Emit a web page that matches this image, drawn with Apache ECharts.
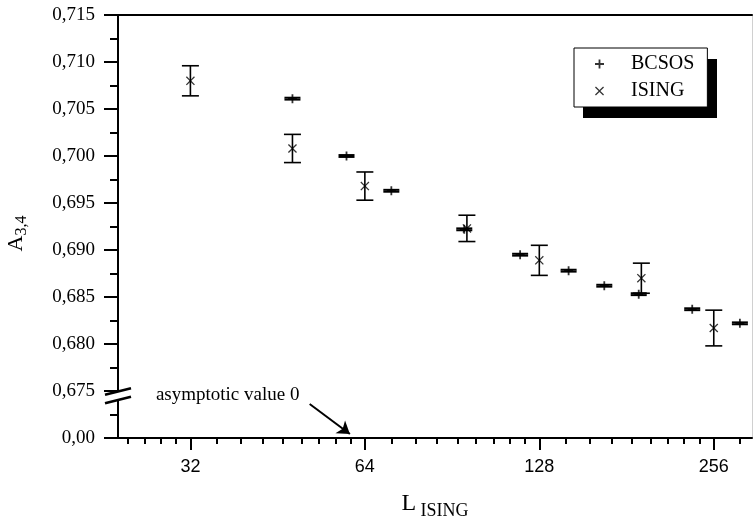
<!DOCTYPE html>
<html><head><meta charset="utf-8">
<script src="https://cdn.jsdelivr.net/npm/echarts@6/dist/echarts.min.js"></script>
<style>html,body{margin:0;padding:0;background:#fff}#c{width:753px;height:525px}</style>
</head><body><div id="c"></div>
<script>
// ---- data ----
const xTickValues = [32, 64, 128, 256];
const xMinorTickValues = [24.9, 26.7, 28.4, 30.2, 35.6, 39.1, 42.7, 46.2, 49.8, 53.3, 56.9, 60.4,
  71.1, 78.2, 85.3, 92.4, 99.6, 106.7, 113.8, 120.9, 142.2, 156.4, 170.7, 184.9, 199.1, 213.3, 227.6, 241.8, 284.4];
const isingL = [32, 48, 64, 96, 128, 192, 256];
const isingA = [0.7080, 0.7008, 0.6968, 0.6923, 0.6889, 0.6870, 0.6817];
const isingErr = [0.0016, 0.0015, 0.0015, 0.0014, 0.0016, 0.0016, 0.0019];
const bcsosL = [48, 59.5, 71.1, 95, 118.6, 143.8, 165.7, 190, 235, 284];
const bcsosA = [0.7061, 0.7000, 0.6963, 0.6922, 0.6895, 0.6878, 0.6862, 0.6853, 0.6837, 0.6822];
const bcsosErr = [0.0001, 0.0001, 0.0001, 0.0001, 0.0001, 0.0001, 0.0001, 0.0001, 0.0001, 0.0001];
const yAxisBottom = 0.670;        // bottom of the broken axis, labelled "0,00"
const annotationText = 'asymptotic value 0';
const annotationAnchor = [27.9, 0.67457];
const arrowFrom = [51.4, 0.67362];
const arrowTo = [60.3, 0.67042];
const breakValue = 0.67449;

const plusPath = 'path://M4,0H6V4H10V6H6V10H4V6H0V4H4Z';
const crossPath = 'path://M1,0L5,4L9,0L10,1L6,5L10,9L9,10L5,6L1,10L0,9L4,5L0,1Z';

function errRender(capW, lw) {
  return function (params, api) {
    const x = api.value(0);
    const lo = api.coord([x, api.value(1)]);
    const hi = api.coord([x, api.value(2)]);
    const style = { stroke: '#000', lineWidth: lw, fill: null };
    return { type: 'group', children: [
      { type: 'line', shape: { x1: lo[0], y1: lo[1], x2: hi[0], y2: hi[1] }, style },
      { type: 'line', shape: { x1: lo[0] - capW / 2, y1: lo[1], x2: lo[0] + capW / 2, y2: lo[1] }, style },
      { type: 'line', shape: { x1: hi[0] - capW / 2, y1: hi[1], x2: hi[0] + capW / 2, y2: hi[1] }, style }
    ] };
  };
}

const chart = echarts.init(document.getElementById('c'), null, { renderer: 'canvas' });
const serif = 'Liberation Serif';
const sans = 'Liberation Sans';
const xCommon = { type: 'log', logBase: 2, min: 24, max: 298, gridIndex: 0, splitLine: { show: false } };

chart.setOption({
  animation: false,
  backgroundColor: '#fff',
  grid: { left: 118, top: 15, right: 1, bottom: 87, outerBoundsMode: 'none', containLabel: false },
  legend: {
    left: 574, top: 48, orient: 'vertical', z: 10,
    itemWidth: 9, itemHeight: 9, itemGap: 7,
    padding: [6, 13, 6, 21],
    backgroundColor: '#fff', borderColor: '#000', borderWidth: 1,
    textStyle: { fontFamily: serif, fontSize: 20, color: '#000', padding: [0, 0, 0, 22] },
    data: [{ name: 'BCSOS', icon: plusPath }, { name: 'ISING', icon: crossPath }],
    selectedMode: false
  },
  graphic: [
    // drop shadow of the legend box
    { type: 'rect', left: 583, top: 59, z: 1, shape: { width: 134, height: 59 }, style: { fill: '#000' } }
  ],
  xAxis: [
    Object.assign({}, xCommon, {
      position: 'bottom',
      axisLine: { lineStyle: { color: '#000', width: 2 } },
      axisTick: { customValues: xTickValues, length: 12, lineStyle: { color: '#000', width: 2 } },
      axisLabel: { customValues: xTickValues, margin: 20, fontFamily: sans, fontSize: 18, color: '#000' },
      name: '{a|L}{s| ISING}', nameLocation: 'middle', nameGap: 50,
      nameTextStyle: { rich: {
        a: { fontFamily: serif, fontSize: 24, color: '#000' },
        s: { fontFamily: serif, fontSize: 18, color: '#000', padding: [14, 0, 0, 0] }
      } }
    }),
    Object.assign({}, xCommon, {
      position: 'bottom',
      axisLine: { show: false },
      axisTick: { customValues: xMinorTickValues, length: 6, lineStyle: { color: '#000', width: 2 } },
      axisLabel: { show: false }
    }),
    Object.assign({}, xCommon, {
      position: 'top',
      axisLine: { lineStyle: { color: '#000', width: 2 } },
      axisTick: { show: false }, axisLabel: { show: false }
    })
  ],
  yAxis: [
    {
      type: 'value', min: yAxisBottom, max: 0.715, interval: 0.005, position: 'left',
      splitLine: { show: false },
      axisLine: { lineStyle: { color: '#000', width: 2 } },
      axisTick: { length: 14, lineStyle: { color: '#000', width: 2 } },
      minorTick: { show: true, splitNumber: 2, length: 8, lineStyle: { color: '#000', width: 2 } },
      axisLabel: {
        margin: 23, fontFamily: serif, fontSize: 19, color: '#000',
        formatter: v => Math.abs(v - yAxisBottom) < 1e-6 ? '0,00' : v.toFixed(3).replace('.', ',')
      },
      name: '{a|A}{s|3,4}', nameLocation: 'middle', nameRotate: 90, nameGap: 88,
      nameTextStyle: { rich: {
        a: { fontFamily: serif, fontSize: 22, color: '#000' },
        s: { fontFamily: serif, fontSize: 16, color: '#000', padding: [12, 14, 0, 0] }
      } }
    },
    {
      type: 'value', min: yAxisBottom, max: 0.715, position: 'right',
      splitLine: { show: false },
      axisLine: { show: true, lineStyle: { color: '#d0d0d0', width: 1 } },
      axisTick: { show: false }, axisLabel: { show: false }
    }
  ],
  series: [
    {
      name: 'BCSOS err', type: 'custom', renderItem: errRender(16, 2), z: 3,
      data: bcsosL.map((l, i) => [l, bcsosA[i] - bcsosErr[i], bcsosA[i] + bcsosErr[i]]),
      encode: { x: 0, y: [1, 2] }
    },
    {
      name: 'ISING err', type: 'custom', renderItem: errRender(17, 1.6), z: 3,
      data: isingL.map((l, i) => [l, isingA[i] - isingErr[i], isingA[i] + isingErr[i]]),
      encode: { x: 0, y: [1, 2] }
    },
    {
      name: 'BCSOS', type: 'scatter', symbol: plusPath, symbolSize: 9, z: 4,
      itemStyle: { color: '#000' },
      data: bcsosL.map((l, i) => [l, bcsosA[i]]),
      markLine: {
        silent: true, symbol: ['none', 'arrow'], symbolSize: 12,
        lineStyle: { color: '#000', width: 2, type: 'solid' }, label: { show: false },
        data: [[{ coord: arrowFrom }, { coord: arrowTo }]]
      },
      markPoint: {
        silent: true, symbol: 'circle', symbolSize: 0,
        label: { show: true, position: 'right', distance: 0, formatter: annotationText,
          fontFamily: serif, fontSize: 19, color: '#000' },
        data: [{ coord: annotationAnchor }]
      }
    },
    {
      name: 'ISING', type: 'scatter', symbol: crossPath, symbolSize: 9, z: 4,
      itemStyle: { color: '#000' },
      data: isingL.map((l, i) => [l, isingA[i]])
    }
  ]
});

// axis-break mark on the y axis, positioned through the axis scale
const bp = chart.convertToPixel({ xAxisIndex: 0, yAxisIndex: 0 }, [24, breakValue]);
chart.setOption({
  graphic: [
    { type: 'rect', left: 583, top: 59, z: 1, shape: { width: 134, height: 59 }, style: { fill: '#000' } },
    { type: 'rect', shape: { x: bp[0] - 3, y: bp[1] - 4, width: 6, height: 8 }, style: { fill: '#fff' }, z: 100 },
    { type: 'line', shape: { x1: bp[0] - 13, y1: bp[1] - 1, x2: bp[0] + 13, y2: bp[1] - 7.5 }, style: { stroke: '#000', lineWidth: 2.5 }, z: 101 },
    { type: 'line', shape: { x1: bp[0] - 13, y1: bp[1] + 7.5, x2: bp[0] + 13, y2: bp[1] + 1 }, style: { stroke: '#000', lineWidth: 2.5 }, z: 101 }
  ]
});
</script>
</body></html>
